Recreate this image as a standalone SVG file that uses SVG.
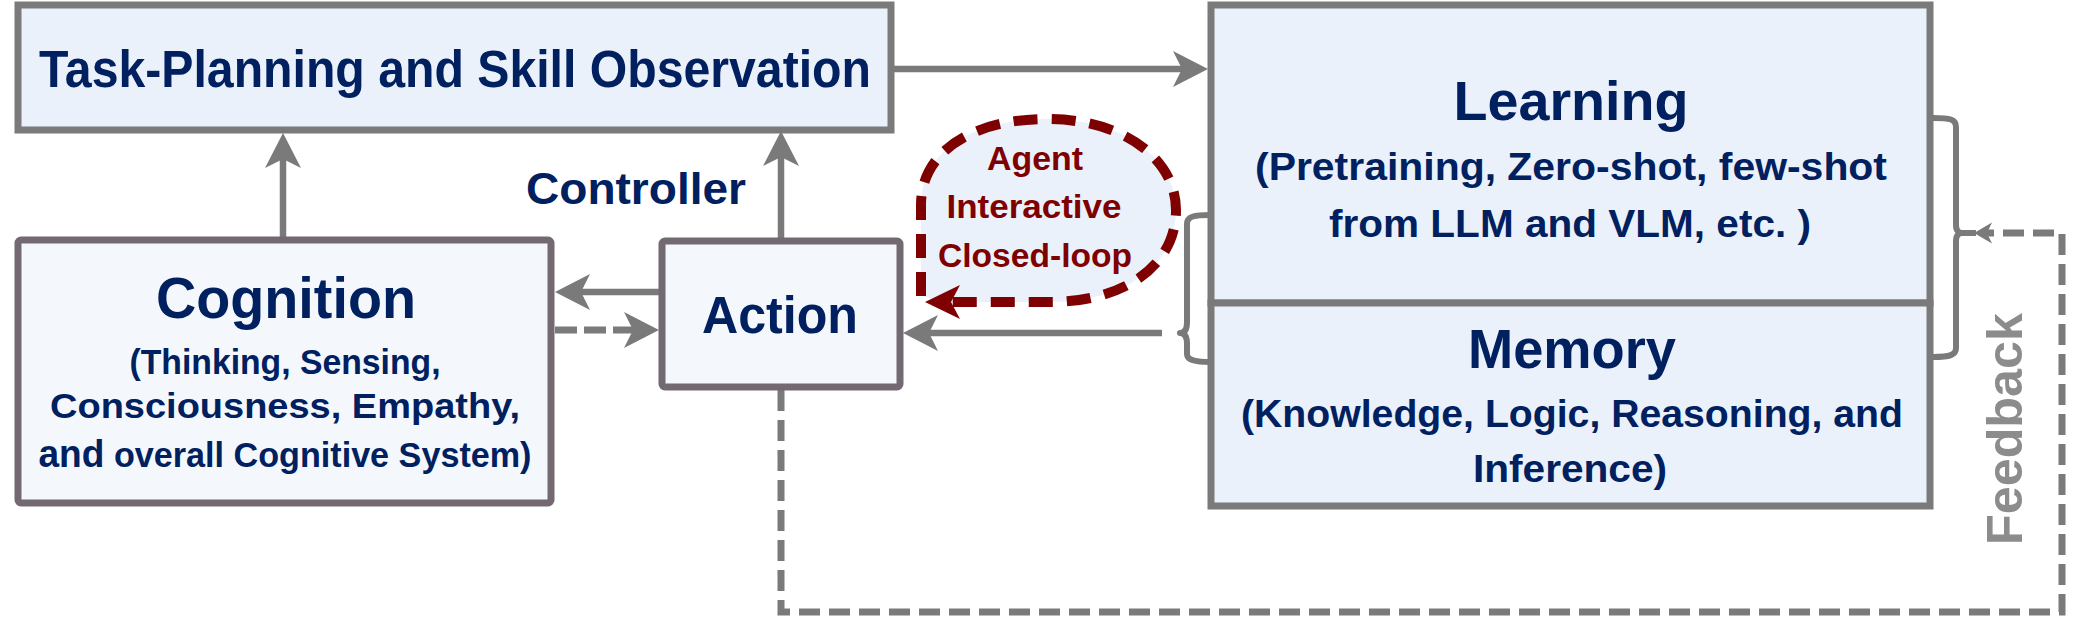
<svg xmlns="http://www.w3.org/2000/svg" width="2079" height="618" viewBox="0 0 2079 618">
<style>
text{font-family:"Liberation Sans",Arial,sans-serif;font-weight:bold;fill:#002060;text-anchor:middle}
.t1{font-size:51px}
.big{font-size:55px}
.sub{font-size:38px}
.csub{font-size:35px}
.ag{font-size:34px;fill:#7f0000}
.fb{font-size:50px;fill:#8c8c8c}
.boxA{fill:#eaf1fa;stroke:#7a7a7a;stroke-width:7}
.boxB{fill:#f4f8fc;stroke:#736973;stroke-width:7}
.conn{fill:none;stroke:#7a7a7a;stroke-width:6.5}
.dash1{stroke-dasharray:22 7;stroke-width:7}
.dash2{stroke-dasharray:21 9;stroke-width:7}
.brace{fill:none;stroke:#7a7a7a;stroke-width:6;stroke-linejoin:round}
</style>
<defs>
<marker id="ah" viewBox="-16 -19 37 38" refX="0" refY="0" markerWidth="37" markerHeight="38" markerUnits="userSpaceOnUse" orient="auto">
<path d="M20,0 L-15,-18 L-6,0 L-15,18 Z" fill="#7a7a7a"/>
</marker>
<marker id="ahs" viewBox="-9 -11 20 22" refX="0" refY="0" markerWidth="20" markerHeight="22" markerUnits="userSpaceOnUse" orient="auto">
<path d="M10,0 L-8,-10.5 L-3,0 L-8,10.5 Z" fill="#7a7a7a"/>
</marker>
<marker id="ahr" viewBox="-16 -18 37 36" refX="0" refY="0" markerWidth="37" markerHeight="36" markerUnits="userSpaceOnUse" orient="auto">
<path d="M20,0 L-15,-17 L-6,0 L-15,17 Z" fill="#7f0000"/>
</marker>
</defs>

<g id="connectors">
<path class="conn" d="M892,69 H1188" marker-end="url(#ah)"/>
<path class="conn" d="M283,237 V153" marker-end="url(#ah)"/>
<path class="conn" d="M781,238 V151" marker-end="url(#ah)"/>
<path class="conn" d="M659,292 H575" marker-end="url(#ah)"/>
<path class="conn dash1" d="M555,330 H639" marker-end="url(#ah)"/>
<path class="conn" d="M1162,333 H923" marker-end="url(#ah)"/>
<path class="conn dash2" d="M781,390 V612 H2062 V233 H1984" marker-end="url(#ahs)"/>
</g>

<g id="task">
<rect class="boxA" x="18" y="5" width="873" height="125"/>
<text class="t1" x="455" y="87" textLength="832" lengthAdjust="spacingAndGlyphs">Task-Planning and Skill Observation</text>
</g>

<g id="learning">
<rect class="boxA" x="1211" y="5" width="719" height="298"/>
<text class="big" x="1571" y="120" textLength="235" lengthAdjust="spacingAndGlyphs">Learning</text>
<text class="sub" x="1571" y="180" textLength="632" lengthAdjust="spacingAndGlyphs">(Pretraining, Zero-shot, few-shot</text>
<text class="sub" x="1570" y="237" textLength="482" lengthAdjust="spacingAndGlyphs">from LLM and VLM, etc. )</text>
</g>

<g id="memory">
<rect class="boxA" x="1211" y="303" width="719" height="203"/>
<text class="big" x="1572" y="368" textLength="208" lengthAdjust="spacingAndGlyphs">Memory</text>
<text class="sub" x="1572" y="427" textLength="662" lengthAdjust="spacingAndGlyphs">(Knowledge, Logic, Reasoning, and</text>
<text class="sub" x="1570" y="482" textLength="194" lengthAdjust="spacingAndGlyphs">Inference)</text>
</g>

<g id="cognition">
<rect class="boxB" x="18" y="240" width="533" height="263" rx="3"/>
<text x="286" y="318" font-size="57" textLength="260" lengthAdjust="spacingAndGlyphs">Cognition</text>
<text class="csub" x="285" y="374" textLength="311" lengthAdjust="spacingAndGlyphs">(Thinking, Sensing,</text>
<text class="csub" x="285" y="418" textLength="470" lengthAdjust="spacingAndGlyphs">Consciousness, Empathy,</text>
<text class="csub" x="285" y="467" textLength="493" lengthAdjust="spacingAndGlyphs"><tspan font-size="38">and</tspan> overall Cognitive System)</text>
</g>

<g id="action">
<rect class="boxB" x="662" y="241" width="238" height="146" rx="3"/>
<text x="780" y="333" font-size="51" textLength="156" lengthAdjust="spacingAndGlyphs">Action</text>
</g>

<g id="controller-label">
<text x="636" y="204" font-size="45" textLength="220" lengthAdjust="spacingAndGlyphs">Controller</text>
</g>

<g id="agent-loop">
<path d="M921,296 L921,205 C921,150 975,119 1047,119 C1125,119 1176,160 1176,210 C1176,265 1125,302 1050,302 L945,302" fill="#eaf1fa" stroke="#7f0000" stroke-width="10" stroke-dasharray="24 14" marker-end="url(#ahr)"/>
<text class="ag" x="1035" y="170" textLength="96" lengthAdjust="spacingAndGlyphs">Agent</text>
<text class="ag" x="1034" y="218" textLength="175" lengthAdjust="spacingAndGlyphs">Interactive</text>
<text class="ag" x="1035" y="267" textLength="194" lengthAdjust="spacingAndGlyphs">Closed-loop</text>
</g>

<g id="braces">
<path class="brace" d="M1210,215 C1195,215 1187,216 1187,224 V322 C1187,330 1184,333 1180,333 C1184,333 1187,336 1187,344 V354 C1187,360 1195,362 1210,362"/>
<path class="brace" d="M1933,118 C1950,118 1956,119 1956,127 V225 C1956,231 1959,233 1962,233 C1959,233 1956,235 1956,241 V348 C1956,355 1950,357 1933,357"/>
<path class="brace" d="M1962,233 H1976"/>
</g>

<g id="feedback-label">
<text class="fb" transform="translate(2022,429) rotate(-90)" x="0" y="0" textLength="232" lengthAdjust="spacingAndGlyphs">Feedback</text>
</g>
</svg>
